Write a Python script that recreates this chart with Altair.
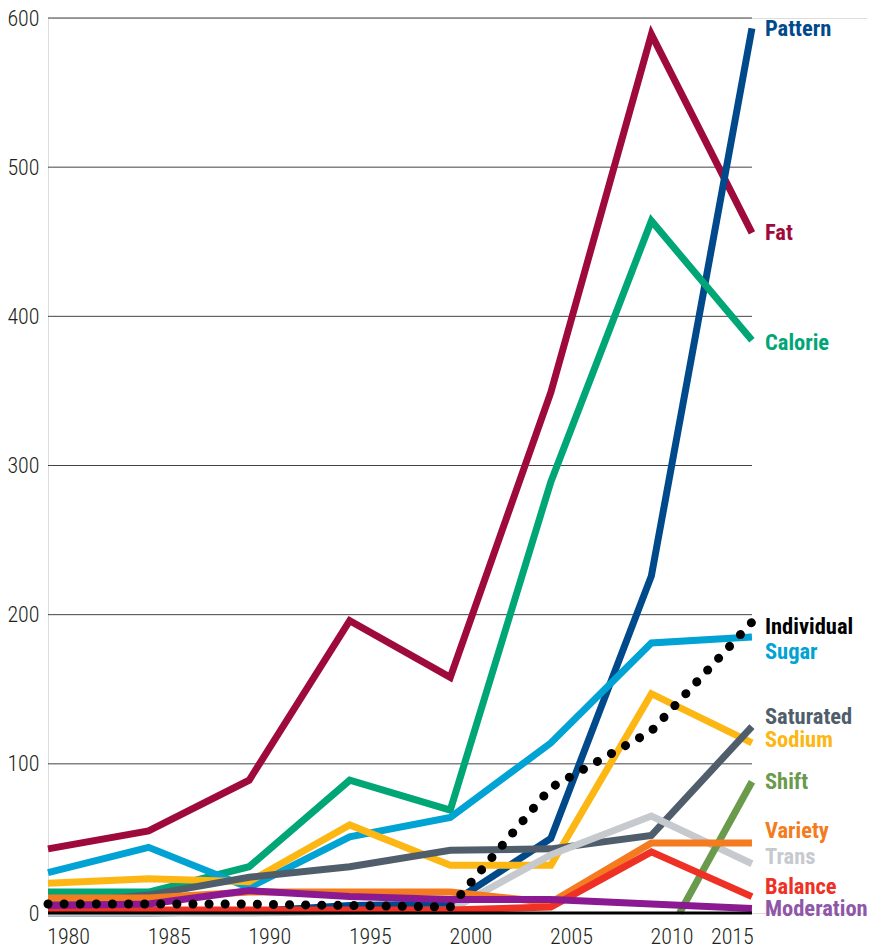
import altair as alt
import pandas as pd

# ---------------- data ----------------
years = [1979, 1984, 1989, 1994, 1999, 2004, 2009, 2014]

fat        = [43, 55, 89, 196, 158, 349, 589, 456]
pattern    = [0, 0, 1, 5, 6, 50, 226, 593]
calorie    = [14, 14, 31, 89, 69, 289, 464, 384]
sugar      = [27, 44, 17, 51, 64, 114, 181, 185]
sodium     = [20, 23, 21, 59, 32, 32, 147, 114]
saturated  = [6, 12, 24, 31, 42, 43, 52, 125]
trans      = [0, 0, 0, 1, 2, 39, 65, 33]
variety    = [10, 10, 14, 14, 14, 7, 47, 47]
balance    = [2, 2, 2, 2, 2, 4, 41, 11]
moderation = [5, 6, 15, 11, 9, 9, 6, 3]
individual = [6, 6, 6, 5, 4, 84, 122, 195]

shift_years = [2010.4, 2014]
shift       = [0, 88]

x_tick_values = [1980, 1985, 1990, 1995, 2000, 2005, 2010, 2013]
y_tick_values = [0, 100, 200, 300, 400, 500, 600]
grid_values   = [100, 200, 300, 400, 500, 600]

# end-of-line labels and where they sit (value units)
label_names = ["Pattern", "Fat", "Calorie", "Individual", "Sugar", "Saturated",
               "Sodium", "Shift", "Variety", "Trans", "Balance", "Moderation"]
label_at    = [592.6, 456, 382, 191.5, 175, 131.6, 116, 88, 55, 37.5, 17.7, 3]
label_colors = ["#004A8C", "#9E0A3C", "#00A676", "#000000", "#00A3D4", "#505E6B",
                "#FDB714", "#6A9A4C", "#F47B20", "#C6CACE", "#EE3124", "#8E57A8"]

colors = {
    "Fat": "#9E0A3C",
    "Pattern": "#004A8C",
    "Calorie": "#00A676",
    "Sugar": "#00A3D4",
    "Sodium": "#FDB714",
    "Saturated": "#505E6B",
    "Trans": "#C6CACE",
    "Shift": "#6A9A4C",
    "Variety": "#F47B20",
    "Balance": "#EE3124",
    "Moderation": "#8B1A92",
    "Individual": "#000000",
}

series = [
    ("Fat", years, fat),
    ("Pattern", years, pattern),
    ("Calorie", years, calorie),
    ("Sugar", years, sugar),
    ("Sodium", years, sodium),
    ("Saturated", years, saturated),
    ("Trans", years, trans),
    ("Shift", shift_years, shift),
    ("Variety", years, variety),
    ("Balance", years, balance),
    ("Moderation", years, moderation),
    ("Individual", years, individual),
]

rows = []
for name, xs, vals in series:
    for yr, v in zip(xs, vals):
        rows.append({"name": name, "year": yr, "value": v})
df = pd.DataFrame(rows)

labels = pd.DataFrame({"name": label_names, "at": label_at,
                       "year": [years[-1]] * len(label_names)})
grid = pd.DataFrame({"value": grid_values, "x0": years[0], "x1": years[-1]})
base = pd.DataFrame({"value": [0], "x0": [years[0]], "x1": [years[-1]]})

FONT = "Roboto Condensed"

x_scale = alt.Scale(domain=[1979, 2019.72], nice=False, zero=False)
y_scale = alt.Scale(domain=[0, 600], nice=False)

x_enc = alt.X(
    "year:Q", title=None, scale=x_scale,
    axis=alt.Axis(
        values=x_tick_values,
        labelExpr="datum.value > 2011 ? '2015' : format(datum.value, 'd')",
        grid=False, ticks=False, domain=False, labelFont=FONT,
        labelFontSize=22, labelFontWeight=300, labelColor="#231F20",
        labelPadding=13, labelFlush=False,
    ),
)
y_enc = alt.Y(
    "value:Q", title=None, scale=y_scale,
    axis=alt.Axis(
        values=y_tick_values, grid=False, ticks=False, domain=False,
        labelFont=FONT, labelFontSize=22, labelFontWeight=300,
        labelColor="#231F20", labelPadding=9,
    ),
)

gridlines = alt.Chart(grid).mark_rule(color="#444444", strokeWidth=1).encode(
    x=alt.X("x0:Q", scale=x_scale), x2="x1:Q",
    y=alt.Y("value:Q", scale=y_scale),
)
baseline = alt.Chart(base).mark_rule(color="#000000", strokeWidth=3).encode(
    x=alt.X("x0:Q", scale=x_scale), x2="x1:Q",
    y=alt.Y("value:Q", scale=y_scale),
)

layers = [gridlines]
for name, _, _ in series:
    if name == "Individual":
        layers.append(baseline)
        mark = alt.Chart(df).mark_line(
            color=colors[name], strokeWidth=9, strokeCap="round",
            strokeDash=[0.1, 16], strokeJoin="round")
    else:
        mark = alt.Chart(df).mark_line(
            color=colors[name], strokeWidth=7, strokeJoin="miter",
            strokeCap="butt")
    layers.append(
        mark.encode(x=x_enc, y=y_enc).transform_filter(
            alt.datum.name == name)
    )

text = alt.Chart(labels).mark_text(
    align="left", baseline="middle", dx=13, font=FONT, fontSize=22.5,
    fontWeight="bold",
).encode(
    x=alt.X("year:Q", scale=x_scale),
    y=alt.Y("at:Q", scale=y_scale),
    text="name:N",
    color=alt.Color(
        "name:N", legend=None,
        scale=alt.Scale(domain=label_names, range=label_colors),
    ),
)
layers.append(text)

chart = alt.layer(*layers).properties(
    width=819,
    height=895,
    autosize=alt.AutoSizeParams(type="none"),
    padding={"left": 40, "top": 10, "right": 0, "bottom": 36},
).configure_view(stroke=None).configure(background="#ffffff")

chart.save("out.html", embed_options={"renderer": "svg", "actions": False})
